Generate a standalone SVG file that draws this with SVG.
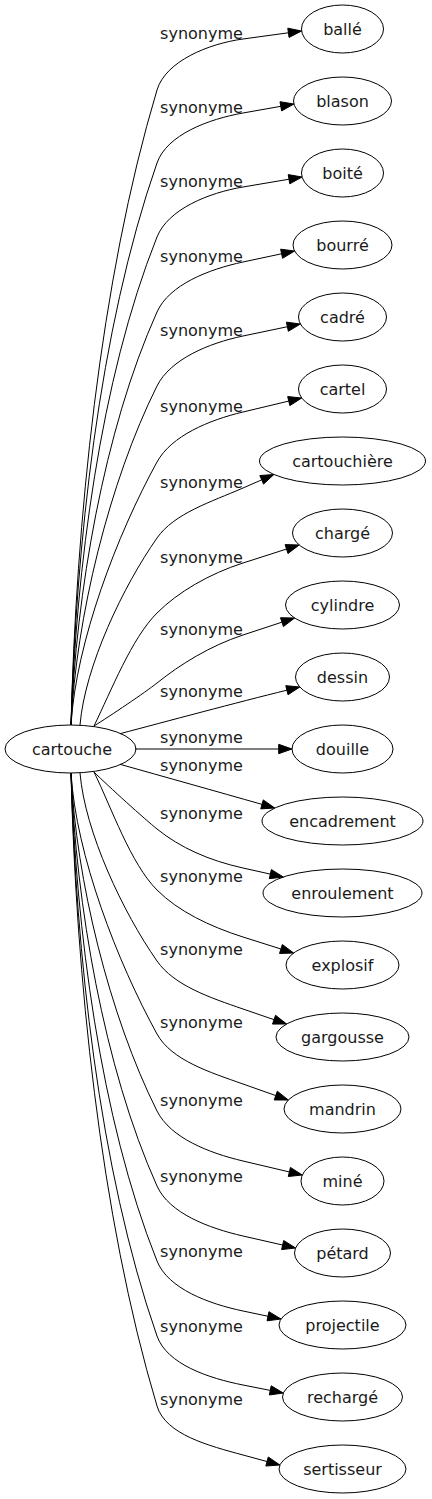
<svg xmlns="http://www.w3.org/2000/svg" width="432" height="1499" viewBox="0 0 432 1499">
<style>
.n ellipse{fill:none;stroke:#000;stroke-width:1}
text{font-family:"DejaVu Sans","Noto Sans",sans-serif;font-size:16px;fill:#1a1a1a;text-anchor:middle}
.e path{fill:none;stroke:#000;stroke-width:1}
.e polygon{fill:#000;stroke:#000;stroke-width:1}
</style>
<rect width="432" height="1499" fill="#fff"/>
<g id="edges" class="e">
<path d="M71,725 C76,525 99.6,281.6 157,90 C165.6,61.3 208.3,43.7 243,39 L288.42,32.8"/><polygon points="301.6,31 289.05,37.43 287.79,28.17"/>
<path d="M71,725 C76,548 98.6,330.1 157,163 C166.9,134.7 208.5,119.1 243,113 L280.8,106.32"/><polygon points="293.9,104 281.61,110.92 279.99,101.72"/>
<path d="M71,725 C76,571.3 100,379.6 157,237 C168.1,209.2 208.5,192.8 243,187 L288.99,179.22"/><polygon points="302.1,177 289.77,183.83 288.21,174.62"/>
<path d="M71,725 C76,594.9 103.7,430.7 157,312 C169.3,284.6 208.8,269.3 243,262 L281.59,253.77"/><polygon points="294.6,251 282.56,258.34 280.62,249.2"/>
<path d="M71,725 C76,618.2 109.3,481.5 157,386 C170.4,359.2 208.7,343.2 243,336 L287.38,326.72"/><polygon points="300.4,324 288.34,331.29 286.43,322.15"/>
<path d="M71,725 C76,642.2 117.1,534.5 157,462 C171.5,435.7 209,420.1 243,412 L288.76,401.09"/><polygon points="301.7,398 289.84,405.63 287.68,396.55"/>
<path d="M80,725 C85,666.1 123.2,586.2 157,538 C174.2,513.4 210.9,502 243,488 L261.71,479.83"/><polygon points="273.9,474.5 263.58,484.11 259.84,475.55"/>
<path d="M94,726 C111.6,690 131.5,638.5 157,613 C178.2,591.8 209.7,573.7 243,563 L286.53,549.06"/><polygon points="299.2,545 287.95,553.51 285.11,544.61"/>
<path d="M94,726 C110,716 145.3,692.4 157,683 C180.4,664.3 209.8,645.95 243,635 L281.97,622.16"/><polygon points="294.6,618 283.43,626.6 280.51,617.72"/>
<path d="M120,733.7 C165,721.8 238.3,702.1 286.89,690.18"/><polygon points="299.8,687 288.01,694.72 285.77,685.65"/>
<path d="M135,749 L278.7,749"/><polygon points="292,749 278.7,753.67 278.7,744.33"/>
<path d="M120,764.3 C165,777 215,791 262,804.39"/><polygon points="274.8,808 260.73,808.88 263.27,799.9"/>
<path d="M94,772 C108,786 145.3,819.6 157,829 C180.4,847.8 208.8,860.4 243,868 L270.32,874.1"/><polygon points="283.3,877 269.3,878.66 271.34,869.54"/>
<path d="M94,772 C111.6,808 130.7,863.7 157,890 C178.2,911.2 209.6,926.4 243,937 L280.92,948.99"/><polygon points="293.6,953 279.51,953.44 282.33,944.54"/>
<path d="M80,773 C85,832.2 123.1,912.5 157,961 C174.2,985.6 209.9,997.6 243,1009 L274.02,1019.67"/><polygon points="286.6,1024 272.5,1024.09 275.54,1015.25"/>
<path d="M71,773 C76,855.2 117.4,962 157,1034 C171.5,1060.3 210,1072.3 243,1084 L275.76,1095.57"/><polygon points="288.3,1100 274.2,1099.97 277.32,1091.17"/>
<path d="M71,773 C76,879.5 109.4,1015.8 157,1111 C170.4,1137.8 208.9,1153 243,1161 L289.36,1171.94"/><polygon points="302.3,1175 288.29,1176.49 290.43,1167.4"/>
<path d="M71,773 C76,903.1 103.7,1067.3 157,1186 C169.3,1213.4 208.9,1228.2 243,1236 L282.63,1245.04"/><polygon points="295.6,1248 281.59,1249.59 283.67,1240.49"/>
<path d="M71,773 C76,926.7 100,1118.4 157,1261 C168.1,1288.8 208.7,1303.8 243,1311 L267.98,1316.26"/><polygon points="281,1319 267.02,1320.83 268.94,1311.69"/>
<path d="M71,773 C76,950.3 98.5,1168.6 157,1336 C166.9,1364.3 208.7,1378.2 243,1385 L270.26,1390.41"/><polygon points="283.3,1393 269.35,1394.99 271.17,1385.83"/>
<path d="M71,773 C76,972.4 99.8,1215 157,1406 C165.6,1434.7 209.2,1445.8 243,1455 L267.06,1461.52"/><polygon points="279.9,1465 265.84,1466.03 268.28,1457.01"/>
</g>
<g id="edge-labels">
<text x="201.5" y="39">synonyme</text>
<text x="201.5" y="113">synonyme</text>
<text x="201.5" y="187">synonyme</text>
<text x="201.5" y="262">synonyme</text>
<text x="201.5" y="336">synonyme</text>
<text x="201.5" y="412">synonyme</text>
<text x="201.5" y="488">synonyme</text>
<text x="201.5" y="563">synonyme</text>
<text x="201.5" y="635">synonyme</text>
<text x="201.5" y="697">synonyme</text>
<text x="201.5" y="743">synonyme</text>
<text x="201.5" y="771">synonyme</text>
<text x="201.5" y="819">synonyme</text>
<text x="201.5" y="882">synonyme</text>
<text x="201.5" y="955">synonyme</text>
<text x="201.5" y="1028">synonyme</text>
<text x="201.5" y="1106">synonyme</text>
<text x="201.5" y="1182">synonyme</text>
<text x="201.5" y="1257">synonyme</text>
<text x="201.5" y="1332">synonyme</text>
<text x="201.5" y="1405">synonyme</text>
</g>
<g id="cartouche" class="n"><ellipse cx="70.5" cy="749" rx="65.5" ry="24"/><text x="72" y="755">cartouche</text></g>
<g id="balle" class="n"><ellipse cx="342.5" cy="29" rx="41" ry="24"/><text x="342.5" y="35">ballé</text></g>
<g id="blason" class="n"><ellipse cx="342.5" cy="101" rx="49" ry="24"/><text x="342.5" y="107">blason</text></g>
<g id="boite" class="n"><ellipse cx="342.5" cy="173" rx="41" ry="24"/><text x="342.5" y="179">boité</text></g>
<g id="bourre" class="n"><ellipse cx="342.5" cy="245" rx="49.5" ry="24"/><text x="342.5" y="251">bourré</text></g>
<g id="cadre" class="n"><ellipse cx="342.5" cy="317" rx="44" ry="24"/><text x="342.5" y="323">cadré</text></g>
<g id="cartel" class="n"><ellipse cx="342.5" cy="389" rx="44" ry="24"/><text x="342.5" y="395">cartel</text></g>
<g id="cartouchiere" class="n"><ellipse cx="342.5" cy="461" rx="83" ry="24"/><text x="342.5" y="467">cartouchière</text></g>
<g id="charge" class="n"><ellipse cx="342.5" cy="533" rx="50" ry="24"/><text x="342.5" y="539">chargé</text></g>
<g id="cylindre" class="n"><ellipse cx="342.5" cy="605" rx="57" ry="24"/><text x="342.5" y="611">cylindre</text></g>
<g id="dessin" class="n"><ellipse cx="342.5" cy="677" rx="47" ry="24"/><text x="342.5" y="683">dessin</text></g>
<g id="douille" class="n"><ellipse cx="342.5" cy="749" rx="50.5" ry="24"/><text x="342.5" y="755">douille</text></g>
<g id="encadrement" class="n"><ellipse cx="342.5" cy="821" rx="80.5" ry="24"/><text x="342.5" y="827">encadrement</text></g>
<g id="enroulement" class="n"><ellipse cx="342.5" cy="893" rx="79.5" ry="24"/><text x="342.5" y="899">enroulement</text></g>
<g id="explosif" class="n"><ellipse cx="342.5" cy="965" rx="56.5" ry="24"/><text x="342.5" y="971">explosif</text></g>
<g id="gargousse" class="n"><ellipse cx="342.5" cy="1037" rx="66.5" ry="24"/><text x="342.5" y="1043">gargousse</text></g>
<g id="mandrin" class="n"><ellipse cx="342.5" cy="1109" rx="58.5" ry="24"/><text x="342.5" y="1115">mandrin</text></g>
<g id="mine" class="n"><ellipse cx="342.5" cy="1181" rx="41.5" ry="24"/><text x="342.5" y="1187">miné</text></g>
<g id="petard" class="n"><ellipse cx="342.5" cy="1253" rx="48" ry="24"/><text x="342.5" y="1259">pétard</text></g>
<g id="projectile" class="n"><ellipse cx="342.5" cy="1325" rx="63.5" ry="24"/><text x="342.5" y="1331">projectile</text></g>
<g id="recharge" class="n"><ellipse cx="342.5" cy="1397" rx="60" ry="24"/><text x="342.5" y="1403">rechargé</text></g>
<g id="sertisseur" class="n"><ellipse cx="342.5" cy="1469" rx="63.5" ry="24"/><text x="342.5" y="1475">sertisseur</text></g>
</svg>
